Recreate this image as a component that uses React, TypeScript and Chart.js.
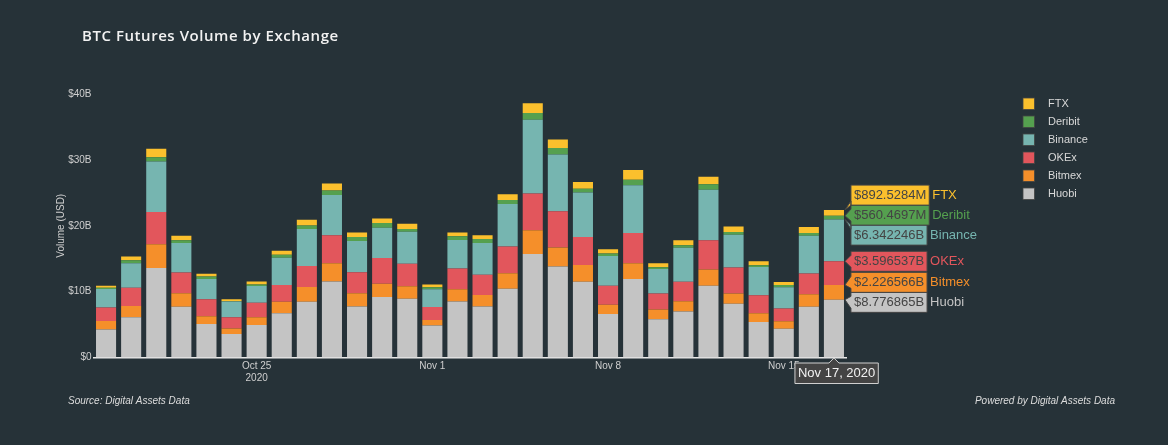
import React, { useEffect, useRef } from "react";
import { Chart, registerables } from "chart.js";

Chart.register(...registerables);

const dates = [
  "Oct 19","Oct 20","Oct 21","Oct 22","Oct 23","Oct 24","Oct 25","Oct 26","Oct 27","Oct 28",
  "Oct 29","Oct 30","Oct 31","Nov 1","Nov 2","Nov 3","Nov 4","Nov 5","Nov 6","Nov 7",
  "Nov 8","Nov 9","Nov 10","Nov 11","Nov 12","Nov 13","Nov 14","Nov 15","Nov 16","Nov 17",
];
const huobi = [4.24,6.1,13.6,7.7,5.1,3.55,4.95,6.7,8.45,11.55,7.74,9.2,8.9,4.85,8.5,7.74,10.45,15.7,13.8,11.5,6.6,11.9,5.8,7,10.9,8.15,5.4,4.35,7.7,8.776865];
const bitmex = [1.31,1.7,3.6,2.05,1.15,0.85,1.15,1.75,2.25,2.75,2.02,2,1.9,0.85,1.85,1.76,2.35,3.6,2.9,2.55,1.4,2.4,1.5,1.55,2.45,1.55,1.3,1.15,1.9,2.226566];
const okex = [2.03,2.8,4.9,3.15,2.6,1.7,2.2,2.55,3.2,4.25,3.19,3.9,3.45,1.95,3.15,3.05,4.05,5.6,5.5,4.25,2.9,4.6,2.4,2.95,4.45,3.95,2.75,1.95,3.15,3.596537];
const binance = [2.82,3.7,7.65,4.5,3.05,2.4,2.55,4.15,5.6,6.1,4.75,4.6,4.85,2.7,4.35,4.85,6.45,11.2,8.6,6.75,4.5,7.25,3.75,5.15,7.65,5,4.3,3.2,5.75,6.342246];
const deribit = [0.2,0.45,0.65,0.4,0.4,0.05,0.25,0.45,0.55,0.7,0.6,0.7,0.4,0.3,0.55,0.6,0.6,1,1,0.55,0.4,0.85,0.25,0.4,0.85,0.4,0.25,0.35,0.4,0.5604697];
const ftx = [0.3,0.6,1.3,0.7,0.4,0.3,0.45,0.6,0.85,1.05,0.67,0.7,0.8,0.45,0.57,0.55,0.9,1.5,1.3,1.05,0.65,1.45,0.6,0.75,1.15,0.85,0.6,0.45,0.9,0.8925284];

const seriesNames = ["Huobi", "Bitmex", "OKEx", "Binance", "Deribit", "FTX"];
const seriesValues = [huobi, bitmex, okex, binance, deribit, ftx];
const seriesColors = ["#c4c4c4", "#f58f2a", "#e2565c", "#76b5b0", "#55a04f", "#fbc02d"];
const labelledTicks: Record<string, string | string[]> = {
  "Oct 25": ["Oct 25", "2020"],
  "Nov 1": "Nov 1",
  "Nov 8": "Nov 8",
  "Nov 15": "Nov 15",
};
const titleText = "BTC Futures Volume by Exchange";
const sourceText = "Source: Digital Assets Data";
const poweredText = "Powered by Digital Assets Data";
const hoverDate = "Nov 17, 2020";

const BG = "#263238";
const SANS = '"Liberation Sans", Arial, sans-serif';

const formatValue = (v: number) =>
  v < 1 ? `$${(v * 1000).toPrecision(7)}M` : `$${v.toPrecision(7)}B`;

// Pushes the hover labels apart the way the picture shows: 20px between centres.
function spreadLabels(desired: number[], gap: number) {
  const order = desired.map((y, i) => ({ y, i })).sort((a, b) => a.y - b.y);
  let groups = order.map((o) => ({ items: [o.i], sum: o.y, n: 1 }));
  let merged = true;
  while (merged) {
    merged = false;
    for (let k = 0; k + 1 < groups.length; k++) {
      const a = groups[k];
      const b = groups[k + 1];
      const aEnd = a.sum / a.n + ((a.n - 1) * gap) / 2;
      const bStart = b.sum / b.n - ((b.n - 1) * gap) / 2;
      if (bStart - aEnd < gap) {
        groups.splice(k, 2, { items: a.items.concat(b.items), sum: a.sum + b.sum, n: a.n + b.n });
        merged = true;
        break;
      }
    }
  }
  const out = new Array(desired.length).fill(0);
  groups.forEach((g) => {
    const centre = g.sum / g.n;
    g.items.forEach((idx, j) => {
      out[idx] = centre + (j - (g.n - 1) / 2) * gap;
    });
  });
  return out;
}

const decorations = {
  id: "decorations",
  afterDraw(chart: any) {
    const { ctx, scales } = chart;
    const xs = scales.x;
    const ys = scales.y;
    ctx.save();

    // title
    ctx.textBaseline = "middle";
    ctx.textAlign = "left";
    ctx.fillStyle = "#f2f2f2";
    ctx.font = '600 15px "Open Sans", sans-serif';
    (ctx as any).letterSpacing = "0.55px";
    ctx.fillText(titleText, 82, 37);
    (ctx as any).letterSpacing = "0px";

    // footers
    ctx.fillStyle = "#dcdcdc";
    ctx.font = `italic 10px ${SANS}`;
    ctx.fillText(sourceText, 68, 401);
    ctx.textAlign = "right";
    ctx.fillText(poweredText, 1115, 401);

    // legend
    ctx.textAlign = "left";
    ctx.font = `11px ${SANS}`;
    for (let i = seriesNames.length - 1, row = 0; i >= 0; i--, row++) {
      const y = 104 + row * 18;
      ctx.fillStyle = seriesColors[i];
      ctx.strokeStyle = "rgba(68,68,68,0.8)";
      ctx.lineWidth = 1;
      ctx.fillRect(1023, y - 6, 11.5, 11.5);
      ctx.strokeRect(1023, y - 6, 11.5, 11.5);
      ctx.fillStyle = "#d8d8d8";
      ctx.fillText(seriesNames[i], 1048, y);
    }

    // hover labels for the last day
    const last = dates.length - 1;
    const cx = xs.getPixelForValue(last);
    const apexX = cx + 11;
    let run = 0;
    const tops = seriesValues.map((s) => {
      run += s[last];
      return ys.getPixelForValue(run);
    });
    const placed = spreadLabels(tops, 20);
    ctx.font = `13px ${SANS}`;
    seriesNames.forEach((name, i) => {
      const text = formatValue(seriesValues[i][last]);
      const w = ctx.measureText(text).width + 6;
      const off = placed[i] - tops[i];
      const h = 20;
      const a = 6;
      ctx.beginPath();
      ctx.moveTo(apexX, tops[i]);
      ctx.lineTo(apexX + a, tops[i] + (off > a ? off - h / 2 : off === 0 ? a : Math.min(off + a, off + h / 2)));
      ctx.lineTo(apexX + a, placed[i] + h / 2);
      ctx.lineTo(apexX + a + w, placed[i] + h / 2);
      ctx.lineTo(apexX + a + w, placed[i] - h / 2);
      ctx.lineTo(apexX + a, placed[i] - h / 2);
      ctx.lineTo(apexX + a, tops[i] + (off < -a ? off + h / 2 : off === 0 ? -a : Math.max(off - a, off - h / 2)));
      ctx.closePath();
      ctx.fillStyle = seriesColors[i];
      ctx.fill();
      ctx.strokeStyle = "#444444";
      ctx.lineWidth = 1;
      ctx.stroke();
      ctx.fillStyle = "#444444";
      ctx.textAlign = "left";
      ctx.fillText(text, apexX + a + 3, placed[i]);
      ctx.fillStyle = seriesColors[i];
      ctx.fillText(name, apexX + a + w + 3, placed[i]);
    });

    // x hover label
    const axisY = ys.getPixelForValue(0);
    ctx.font = `13px ${SANS}`;
    const tw = ctx.measureText(hoverDate).width + 6;
    const left = cx - 39;
    ctx.beginPath();
    ctx.moveTo(cx, axisY + 0.5);
    ctx.lineTo(cx + 5, axisY + 5.5);
    ctx.lineTo(left + tw, axisY + 5.5);
    ctx.lineTo(left + tw, axisY + 26);
    ctx.lineTo(left, axisY + 26);
    ctx.lineTo(left, axisY + 5.5);
    ctx.lineTo(cx - 5, axisY + 5.5);
    ctx.closePath();
    ctx.fillStyle = "#444444";
    ctx.fill();
    ctx.strokeStyle = "#d0d0d0";
    ctx.stroke();
    ctx.fillStyle = "#f2f2f2";
    ctx.textAlign = "left";
    ctx.fillText(hoverDate, left + 3, axisY + 16);

    ctx.restore();
  },
};

export default function App() {
  const ref = useRef<HTMLCanvasElement | null>(null);

  useEffect(() => {
    document.body.style.margin = "0";
    document.body.style.background = BG;
    const chart = new Chart(ref.current as HTMLCanvasElement, {
      type: "bar",
      data: {
        labels: dates,
        datasets: seriesNames.map((name, i) => ({
          label: name,
          data: seriesValues[i],
          backgroundColor: seriesColors[i],
          borderWidth: 0,
          barPercentage: 0.8,
          categoryPercentage: 1,
        })),
      },
      options: {
        responsive: false,
        animation: false,
        events: [],
        layout: { padding: { left: 0, right: 321.5, top: 94, bottom: 0 } },
        plugins: { legend: { display: false }, tooltip: { enabled: false }, title: { display: false } },
        scales: {
          x: {
            stacked: true,
            afterFit: (s: any) => {
              s.height = 87.5;
            },
            grid: { display: false, drawTicks: false },
            border: { display: true, color: "#e8e8e8", width: 1.5 },
            ticks: {
              autoSkip: false,
              maxRotation: 0,
              padding: 3,
              color: "#cfcfcf",
              font: { size: 10, family: SANS, lineHeight: 1.2 },
              callback: (_v: any, i: number) => labelledTicks[dates[i]] ?? "",
            },
          },
          y: {
            stacked: true,
            min: 0,
            max: 40,
            afterFit: (s: any) => {
              s.width = 93.5;
            },
            grid: { display: false, drawTicks: false },
            border: { display: false },
            title: {
              display: true,
              text: "Volume (USD)",
              color: "#cfcfcf",
              font: { size: 10, family: SANS },
              padding: { top: 55, bottom: 0 },
            },
            ticks: {
              stepSize: 10,
              padding: 2,
              color: "#cfcfcf",
              font: { size: 10, family: SANS },
              callback: (v: any) => (v === 0 ? "$0" : `$${v}B`),
            },
          },
        },
      },
      plugins: [decorations],
    } as any);
    return () => chart.destroy();
  }, []);

  return (
    <div style={{ position: "fixed", left: 0, top: 0, width: 1168, height: 445, background: BG }}>
      <canvas ref={ref} width={1168} height={445} style={{ display: "block" }} />
    </div>
  );
}
